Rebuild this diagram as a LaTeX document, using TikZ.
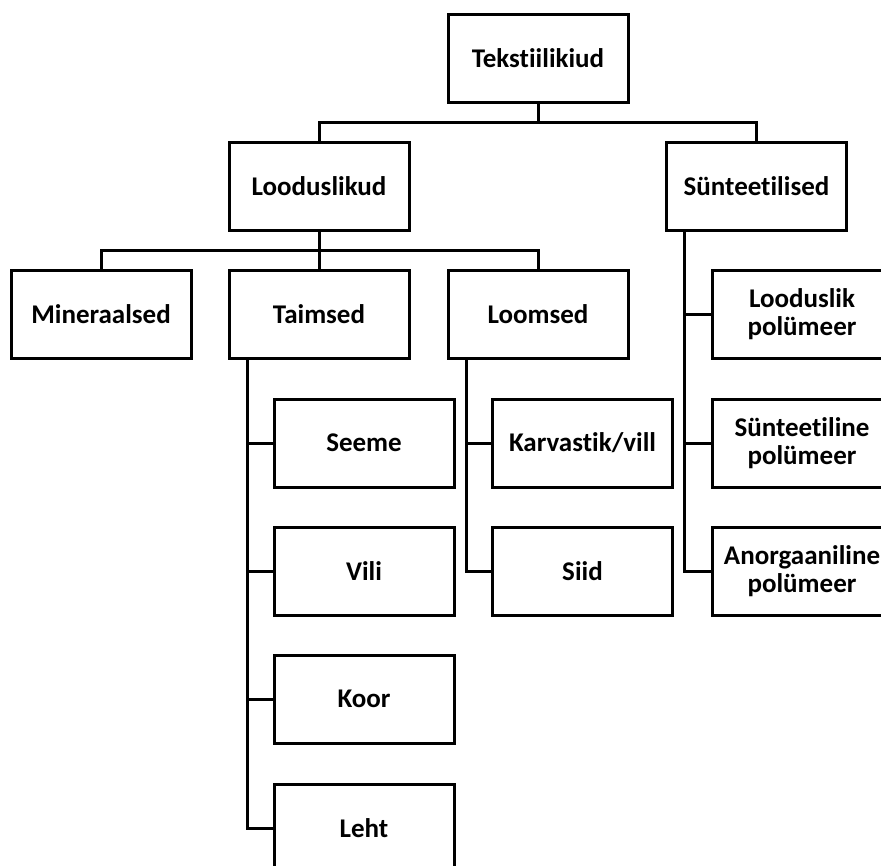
\documentclass[tikz,border=0pt]{standalone}
\usepackage{fontspec}
\setmainfont{Carlito}[Ligatures={NoCommon}]
\usetikzlibrary{calc}
\begin{document}
\begin{tikzpicture}[x=1pt,y=-1pt,
  box/.style={draw, line width=3pt, minimum width=180pt, minimum height=88pt,
    inner sep=0pt, outer sep=0pt, align=center,
    font=\fontsize{27}{28}\selectfont\bfseries},
  conn/.style={line width=3pt}]
\path[use as bounding box] (0,0) rectangle (881,865);
\clip (0,0) rectangle (881,865);
\fill[white] (0,0) rectangle (881,865);
% nodes
\node[box] (T)  at (538,58.5)  {Tekstiilikiud};
\node[box] (L)  at (319,186.5) {Looduslikud};
\node[box] (S)  at (756.5,186.5) {Sünteetilised};
\node[box] (M)  at (101,314)   {Mineraalsed};
\node[box] (Ta) at (319,314)   {Taimsed};
\node[box] (Lo) at (538,314)   {Loomsed};
\node[box] (Se) at (364,443)   {Seeme};
\node[box] (Vi) at (364,571)   {Vili};
\node[box] (Ko) at (364,699)   {Koor};
\node[box] (Le) at (364,828)   {Leht};
\node[box] (Ka) at (582.5,443) {Karvastik/vill};
\node[box] (Si) at (582.5,571) {Siid};
\node[box] (LP) at (802,314)   {Looduslik\\polümeer};
\node[box] (SP) at (802,443)   {Sünteetiline\\polümeer};
\node[box] (AP) at (802,571)   {Anorgaaniline\\polümeer};
% buses
\coordinate (b1) at ($(T.south)+(0,20)$);
\draw[conn] (T.south) -- (b1);
\draw[conn] (L.north) |- (b1) -| (S.north);
\coordinate (b2) at ($(L.south)+(0,20)$);
\draw[conn] (L.south) -- (b2);
\draw[conn] (M.north) |- (b2) -| (Lo.north);
\draw[conn] (Ta.north) -- (b2);
% spines
\coordinate (ta) at ($(Ta.south)+(-72,0)$);
\draw[conn] (ta) |- (Le.west);
\draw[conn] (Se.west) -- (Se.west -| ta);
\draw[conn] (Vi.west) -- (Vi.west -| ta);
\draw[conn] (Ko.west) -- (Ko.west -| ta);
\coordinate (lo) at ($(Lo.south)+(-72,0)$);
\draw[conn] (lo) |- (Si.west);
\draw[conn] (Ka.west) -- (Ka.west -| lo);
\coordinate (sy) at ($(S.south)+(-72.5,0)$);
\draw[conn] (sy) |- (AP.west);
\draw[conn] (LP.west) -- (LP.west -| sy);
\draw[conn] (SP.west) -- (SP.west -| sy);
\end{tikzpicture}
\end{document}
